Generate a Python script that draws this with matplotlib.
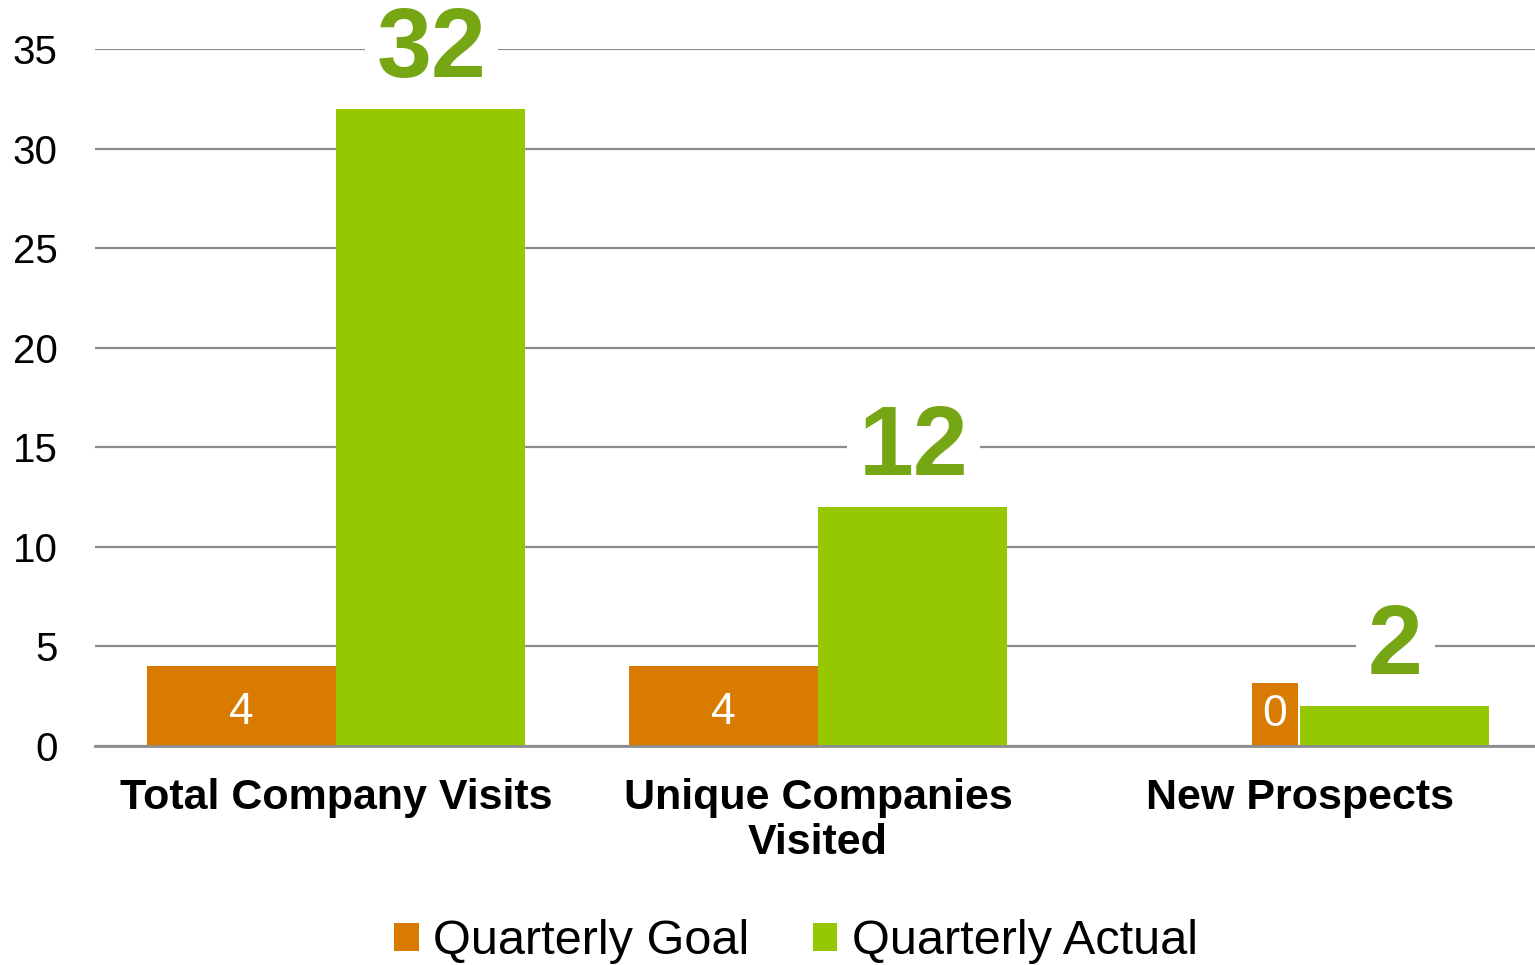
import matplotlib
matplotlib.use("Agg")
import matplotlib.pyplot as plt
from matplotlib import font_manager
import numpy as np

categories = ["Total Company Visits", "Unique Companies\nVisited", "New Prospects"]
goal = [4, 4, 0]
actual = [32, 12, 2]
series_names = ["Quarterly Goal", "Quarterly Actual"]

ORANGE = "#D97B00"
GREEN = "#95C800"
LABEL_GREEN = "#76A614"
GRID = "#8C8C8C"

installed = {f.name for f in font_manager.fontManager.ttflist}
base_font = "Liberation Sans" if "Liberation Sans" in installed else "DejaVu Sans"
narrow = "Liberation Sans Narrow" in installed
legend_font = "Liberation Sans Narrow" if narrow else base_font
legend_size = 40 if narrow else 35
plt.rcParams["font.family"] = [base_font, "DejaVu Sans"]

W, H = 1535, 965
fig = plt.figure(figsize=(W / 100, H / 100), dpi=100)
ax = fig.add_axes([95 / W, 1 - 746 / H, 1446 / W, (746 - 49) / H])

x = np.arange(len(categories))
bw = 0.392
ax.bar(x - bw / 2, goal, bw, color=ORANGE, label=series_names[0], zorder=2)
ax.bar(x + bw / 2, actual, bw, color=GREEN, label=series_names[1], zorder=2)

ax.set_xlim(-0.5, 2.5)
ax.set_ylim(0, 35)
ax.set_yticks(range(0, 36, 5))
ax.yaxis.grid(True, color=GRID, linewidth=1.6, zorder=0)
ax.set_axisbelow(True)
for s in ["top", "right", "left"]:
    ax.spines[s].set_visible(False)
ax.spines["bottom"].set_color(GRID)
ax.spines["bottom"].set_linewidth(2)
ax.tick_params(axis="y", length=0, labelsize=29, pad=27)
ax.tick_params(axis="x", length=0, pad=23)
ax.set_xticks(x)
ax.set_xticklabels(categories, fontsize=31, fontweight="bold", linespacing=1.15)

# goal labels (white, inside the bar)
for i, v in enumerate(goal):
    if v > 0:
        ax.annotate(str(v), xy=(x[i] - bw / 2, 0), xytext=(0, 22), textcoords="offset pixels",
                    color="white", fontsize=32, ha="center", va="baseline", zorder=3)
    else:
        # zero value: label drawn on an orange box at the base
        ax.annotate(str(v), xy=(x[i], 0), xytext=(-25, 32), textcoords="offset pixels",
                    color="white", fontsize=32, ha="center", va="center", zorder=3,
                    bbox=dict(boxstyle="square,pad=0.24", fc=ORANGE, ec="none"))

# actual labels (big green with white box)
for i, v in enumerate(actual):
    ax.annotate(str(v), xy=(x[i] + bw / 2, v), xytext=(1, 32), textcoords="offset pixels",
                color=LABEL_GREEN, fontsize=71, fontweight="bold", ha="center",
                va="baseline", zorder=3,
                bbox=dict(boxstyle="square,pad=0.12", fc="white", ec="none"))

fig.legend(loc="center", bbox_to_anchor=(796 / W, 1 - 942 / H), ncol=2, frameon=False,
           prop={"family": legend_font, "size": legend_size}, handlelength=0.5, handleheight=0.5,
           handletextpad=0.3, columnspacing=1.3, borderaxespad=0, borderpad=0)

fig.savefig("out.png", dpi=100)
